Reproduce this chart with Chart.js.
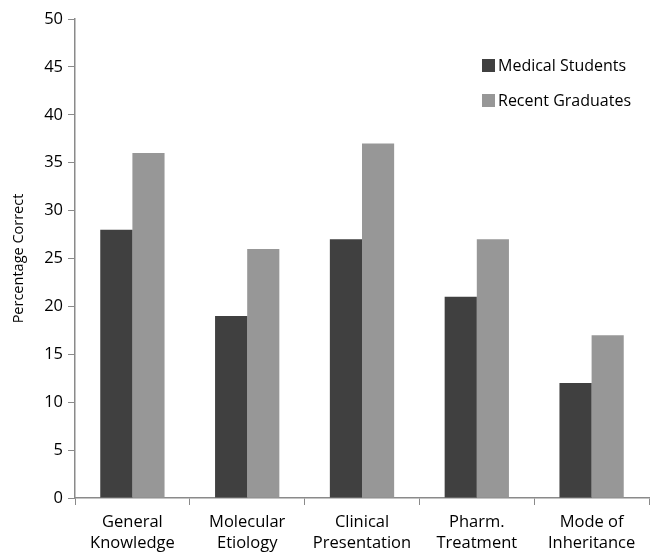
<!DOCTYPE html>
<html>
<head>
<meta charset="utf-8">
<script src="https://cdn.jsdelivr.net/npm/chart.js@4/dist/chart.umd.min.js"></script>
<style>
  html, body { margin: 0; padding: 0; background: #fff; }
  #wrap { width: 653px; height: 556px; }
</style>
</head>
<body>
<div id="wrap"><canvas id="c" width="653" height="556"></canvas></div>
<script>
const categories = [
  ["General", "Knowledge"],
  ["Molecular", "Etiology"],
  ["Clinical", "Presentation"],
  ["Pharm.", "Treatment"],
  ["Mode of", "Inheritance"]
];
const medicalStudents = [28, 19, 27, 21, 12];
const recentGraduates = [36, 26, 37, 27, 17];
const seriesNames = ["Medical Students", "Recent Graduates"];
const yTitle = "Percentage Correct";

const FONT = "'Open Sans', 'Liberation Sans', sans-serif";

// Legend drawn inside the plot, top-right, with square swatches
const insideLegend = {
  id: 'insideLegend',
  afterDraw(chart) {
    const ctx = chart.ctx;
    ctx.save();
    ctx.font = "16px " + FONT;
    ctx.textBaseline = 'middle';
    ctx.textAlign = 'left';
    const x0 = 482, ys = [66, 101];
    chart.data.datasets.forEach((ds, i) => {
      ctx.fillStyle = ds.backgroundColor;
      ctx.fillRect(x0, ys[i] - 7, 13, 13);
      ctx.fillStyle = '#000';
      ctx.fillText(ds.label, x0 + 16, ys[i]);
    });
    ctx.restore();
  }
};

new Chart(document.getElementById('c'), {
  type: 'bar',
  data: {
    labels: categories,
    datasets: [
      { label: seriesNames[0], data: medicalStudents, backgroundColor: '#404040' },
      { label: seriesNames[1], data: recentGraduates, backgroundColor: '#979797' }
    ]
  },
  options: {
    responsive: false,
    animation: false,
    layout: { padding: { top: 19, right: 4, left: 0, bottom: 0 } },
    plugins: { legend: { display: false }, tooltip: { enabled: false } },
    datasets: { bar: { categoryPercentage: 0.56, barPercentage: 1.0 } },
    scales: {
      x: {
        grid: { display: true, drawOnChartArea: false, drawTicks: true, tickLength: 7, color: '#8a8a8a', offset: true },
        border: { display: true, color: '#8a8a8a', width: 1.5 },
        ticks: { color: '#000', font: { family: FONT, size: 16.5, lineHeight: 1.27 }, padding: 7, maxRotation: 0, autoSkip: false },
        afterFit(scale) { scale.height = 58; }
      },
      y: {
        min: 0, max: 50,
        grid: { display: true, drawOnChartArea: false, drawTicks: true, tickLength: 7, color: '#8a8a8a' },
        border: { display: true, color: '#8a8a8a', width: 1.5 },
        ticks: { stepSize: 5, color: '#000', font: { family: FONT, size: 16.5 }, padding: 5 },
        title: { display: true, text: yTitle, color: '#000', font: { family: FONT, size: 14.5 }, padding: { top: 10, bottom: 2 } },
        afterFit(scale) { scale.width = 75; }
      }
    }
  },
  plugins: [insideLegend]
});
</script>
</body>
</html>
